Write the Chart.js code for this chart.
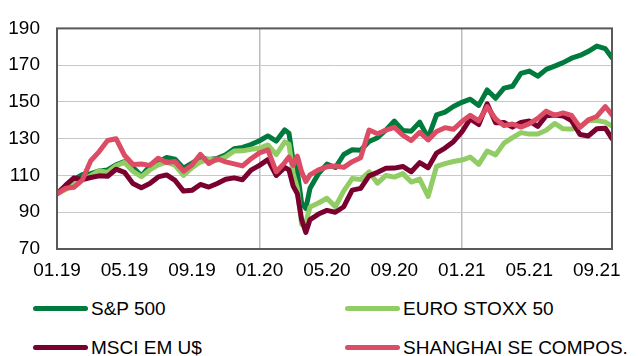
<!DOCTYPE html>
<html>
<head>
<meta charset="utf-8">
<script src="https://cdn.jsdelivr.net/npm/chart.js@4.4.1/dist/chart.umd.min.js"></script>
<style>
  body { margin: 0; background: #fff; font-family: 'Liberation Sans', Arial, sans-serif; }
  #wrap { position: relative; width: 638px; height: 356px; }
  #box { position: absolute; left: 0; top: 0; width: 638px; height: 290px; }
  .item { position: absolute; height: 24px; font-size: 19px; line-height: 24px; color: #000; white-space: nowrap; }
  .item span.mark { position: absolute; left: 0; top: 9px; width: 55px; height: 5px; border-radius: 3px; }
  .item span.txt { position: absolute; left: 58px; top: 0; }
</style>
</head>
<body>
<div id="wrap">
  <div id="box"><canvas id="stockChart"></canvas></div>
  <div id="legend"></div>
</div>
<script>
// months since 01.2019 (0 = start of January 2019)
const months = [0, 0.5, 1, 1.5, 2, 2.5, 3, 3.5, 4, 4.5, 5, 5.5, 6, 6.5, 7, 7.5, 8, 8.5, 9, 9.5,
  10, 10.5, 11, 11.5, 12, 12.5, 13, 13.5, 13.75, 14, 14.25, 14.5, 14.75, 15, 15.5, 16, 16.5, 17, 17.5, 18,
  18.5, 19, 19.5, 20, 20.5, 21, 21.5, 22, 22.5, 23, 23.5, 24, 24.5, 25, 25.5, 26, 26.5, 27, 27.5, 28,
  28.5, 29, 29.5, 30, 30.5, 31, 31.5, 32, 32.5, 32.9];

const spx = [100, 103.5, 107.8, 110.5, 111, 112.5, 113, 115.8, 117.5, 114.5, 109.8, 115, 117.3, 119.8, 118.9, 114, 116.7, 119.5, 118.7, 119.3,
  121.2, 124.5, 125.3, 126.8, 128.9, 131.5, 128.7, 134.8, 133, 117.8, 112, 95, 92, 103.1, 111, 116.2, 114.3, 121.4, 124, 123.7,
  128.5, 130.5, 134.8, 139.6, 134.5, 134.1, 139, 130.4, 143, 144.5, 147.5, 149.8, 151.5, 148.1, 156.5, 152, 157.5, 158.5, 165.5, 166.8,
  164, 167.7, 169.5, 171.4, 173.8, 175.3, 177.5, 180.4, 179, 174];

const stoxx = [100, 102.3, 105.3, 107.6, 109.9, 112.6, 111.7, 115.3, 117.1, 112.3, 109.3, 113, 115.8, 117.3, 115.5, 110, 114.2, 117.3, 118.9, 118.3,
  120.1, 123.3, 123.4, 124.3, 124.8, 126.6, 121.3, 128.3, 127, 110.9, 103, 83.5, 84.5, 92.9, 95, 97.6, 93, 101.6, 108.3, 107.8,
  112, 105.8, 110, 109.1, 111, 106.4, 108, 98.6, 115, 116.4, 117.6, 118.4, 120, 116, 123.3, 121.2, 127.6, 130.6, 133.3, 132.5,
  132.6, 134.6, 138.3, 135.4, 135.3, 136.3, 140, 139.9, 139, 136.8];

const msci = [100, 104.6, 108.7, 107.7, 108.9, 109.8, 109.6, 113.4, 111.7, 105.6, 103.3, 105.6, 109.2, 110.3, 107.3, 101.5, 101.9, 105.1, 103.7, 105.6,
  107.9, 108.7, 107.7, 112.9, 115.5, 118.6, 110, 114.4, 113, 104.2, 100, 86, 79, 86, 89, 91, 90, 93, 102, 103,
  109.8, 111.7, 113.9, 114, 114.9, 112, 117, 114.2, 122.2, 124.9, 128.4, 133.7, 140.8, 137.7, 149, 138.7, 138.8, 136.3, 138.8, 139.6,
  136.7, 142.5, 142.9, 142.4, 139.8, 132.3, 131.5, 135.4, 135.7, 130];

const shanghai = [100, 103, 103.6, 107.5, 118, 123, 129, 130, 121, 116, 116.2, 115.5, 119.4, 117.1, 117.6, 112.3, 115.7, 121.5, 116.5, 119.1,
  117.4, 116.3, 115.2, 119.1, 122.3, 123.9, 112, 117, 120, 115.5, 120.5, 112, 106.7, 110.3, 113.1, 114.7, 115.1, 114.4, 117.5, 119.7,
  134.7, 132.7, 134.7, 136.2, 131.9, 129, 133.5, 129.3, 133.9, 136, 135.1, 139.3, 142.7, 139.7, 147.4, 140.7, 137.1, 138, 136.3, 138.2,
  141.1, 145, 142.7, 144, 142.7, 136.2, 140.3, 142.1, 147.5, 143];

const xTickLabels = ['01.19', '05.19', '09.19', '01.20', '05.20', '09.20', '01.21', '05.21', '09.21'];
const yearLines = [12, 24];

const FONT = { family: "'Liberation Sans', Arial, sans-serif", size: 19 };

function pts(values) {
  return months.map((m, i) => ({ x: m, y: values[i] }));
}

// dark frame around the plot area
const frame = {
  id: 'frame',
  afterDatasetsDraw(chart) {
    const a = chart.chartArea, c = chart.ctx;
    c.save();
    c.strokeStyle = '#595959';
    c.lineWidth = 2;
    c.strokeRect(a.left, a.top, a.right - a.left, a.bottom - a.top);
    c.restore();
  }
};

const series = [
  { label: 'S&P 500', data: pts(spx), color: '#007a3d', order: 4 },
  { label: 'EURO STOXX 50', data: pts(stoxx), color: '#92cc64', order: 3 },
  { label: 'MSCI EM U$', data: pts(msci), color: '#7a0030', order: 2 },
  { label: 'SHANGHAI SE COMPOS.', data: pts(shanghai), color: '#dc4c64', order: 1 }
];

const ctx = document.getElementById('stockChart').getContext('2d');
const chart = new Chart(ctx, {
  type: 'line',
  data: {
    datasets: series.map(s => ({
      label: s.label,
      data: s.data,
      borderColor: s.color,
      backgroundColor: s.color,
      borderWidth: 5,
      borderJoinStyle: 'round',
      borderCapStyle: 'round',
      pointRadius: 0,
      tension: 0,
      order: s.order
    }))
  },
  options: {
    responsive: true,
    maintainAspectRatio: false,
    animation: false,
    layout: { padding: { top: 22, right: 26, left: 0, bottom: 0 } },
    plugins: { legend: { display: false }, tooltip: { enabled: false } },
    scales: {
      x: {
        type: 'linear',
        min: 0,
        max: 32.9,
        afterFit: s => { s.height = 41; },
        border: { display: false },
        grid: {
          drawTicks: false,
          lineWidth: 1.5,
          color: c => yearLines.includes(c.tick && c.tick.value) ? '#b9bdc1' : 'rgba(0,0,0,0)'
        },
        afterBuildTicks: s => { s.ticks = xTickLabels.map((_, i) => ({ value: i * 4 })); },
        ticks: {
          padding: 10,
          maxRotation: 0,
          autoSkip: false,
          color: '#000',
          font: FONT,
          callback: v => xTickLabels[v / 4]
        }
      },
      y: {
        min: 70,
        max: 190,
        afterFit: s => { s.width = 57; },
        border: { display: false },
        grid: { drawTicks: false, color: '#c8c8c8', lineWidth: 1 },
        ticks: { stepSize: 20, padding: 17, color: '#000', font: FONT }
      }
    }
  },
  plugins: [frame]
});

// legend in two columns below the chart
const legendPos = [[33, 297], [345, 297], [33, 336], [345, 336]];
const legend = document.getElementById('legend');
series.forEach((s, i) => {
  const d = document.createElement('div');
  d.className = 'item';
  d.style.left = legendPos[i][0] + 'px';
  d.style.top = legendPos[i][1] + 'px';
  d.innerHTML = '<span class="mark" style="background:' + s.color + '"></span><span class="txt"></span>';
  d.querySelector('.txt').textContent = s.label;
  legend.appendChild(d);
});
</script>
</body>
</html>
